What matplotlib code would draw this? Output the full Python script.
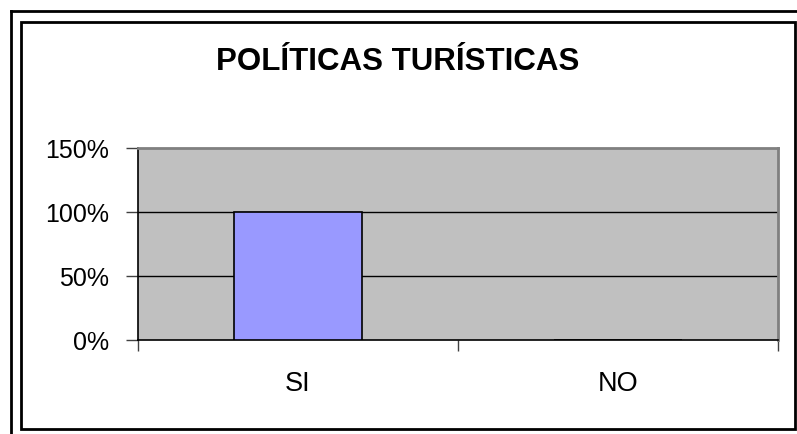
import matplotlib.pyplot as plt
from matplotlib.lines import Line2D
from matplotlib.patches import Rectangle
from matplotlib.ticker import PercentFormatter

categories = ['SI', 'NO']
values = [1.0, 0.0]
y_ticks = [0, 0.5, 1.0, 1.5]
title = 'POLÍTICAS TURÍSTICAS'

W, H = 797, 434
plt.rcParams['font.family'] = ['Liberation Sans', 'DejaVu Sans']

fig = plt.figure(figsize=(W / 100, H / 100), dpi=100)


def fx(px):
    return px / W


def fy(py):
    return 1 - py / H


# outer frame lines (top and left only, as in the picture)
fig.add_artist(Line2D([fx(11), 1], [fy(11), fy(11)], color='black', lw=2))
fig.add_artist(Line2D([fx(11), fx(11)], [fy(11), 0], color='black', lw=2))
# inner chart frame
fig.add_artist(Rectangle((fx(21), fy(429)), fx(795) - fx(21), fy(22) - fy(429),
                         fill=False, edgecolor='black', lw=2))

ax = fig.add_axes([fx(138), fy(340), fx(778) - fx(138), fy(148) - fy(340)])
ax.set_facecolor('#C0C0C0')

x = list(range(len(categories)))
ax.bar(x, values, width=0.4, color='#9999FF', edgecolor='black', linewidth=1.2, zorder=3)

ax.set_xlim(-0.5, len(categories) - 0.5)
ax.set_ylim(0, 1.5)
ax.set_yticks(y_ticks)
ax.yaxis.set_major_formatter(PercentFormatter(1.0, decimals=0))
ax.set_xticks(x)
ax.set_xticklabels(categories)
ax.set_xticks([i - 0.5 for i in range(len(categories) + 1)], minor=True)

for v in y_ticks[1:-1]:
    ax.axhline(v, color='black', lw=1, zorder=1)

ax.tick_params(axis='y', length=9, width=1, pad=12, labelsize=18, color='#404040')
ax.tick_params(axis='x', which='major', length=0, pad=22, labelsize=19.5)
ax.tick_params(axis='x', which='minor', length=8, width=1, color='#404040')

for side in ['left', 'bottom']:
    ax.spines[side].set_color('black')
    ax.spines[side].set_linewidth(1.2)
for side in ['top', 'right']:
    ax.spines[side].set_color('#808080')
    ax.spines[side].set_linewidth(2)

fig.text(fx(398), fy(62), title, ha='center', va='center',
         fontsize=22.5, fontweight='bold')

fig.savefig('out.png', dpi=100)
